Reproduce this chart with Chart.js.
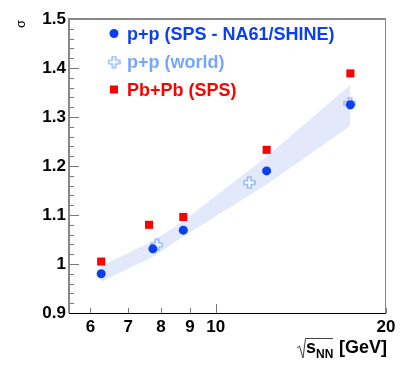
<!DOCTYPE html>
<html>
<head>
<meta charset="utf-8">
<script src="https://cdn.jsdelivr.net/npm/chart.js@4/dist/chart.umd.min.js"></script>
<style>
    html, body { margin: 0; padding: 0; background: #fff; }
    #chart { display: block; }
</style>
</head>
<body>
<canvas id="chart" width="407" height="369"></canvas>
<script>
// Data
const ppX = [6.27, 7.74, 8.76, 12.3, 17.3];
const ppY = [0.980, 1.031, 1.069, 1.190, 1.325];
const worldX = [7.87, 11.46, 17.27];
const worldY = [1.039, 1.166, 1.328];
const pbX = [6.27, 7.62, 8.76, 12.3, 17.3];
const pbY = [1.005, 1.080, 1.096, 1.233, 1.389];
const bandX = [6.27, 7.74, 8.76, 12.3, 17.3];
const bandHigh = [0.996, 1.047, 1.088, 1.219, 1.366];
const bandLow = [0.964, 1.015, 1.056, 1.162, 1.282];

const xTicks = [6, 7, 8, 9, 10, 20];
const yTicks = [0.9, 1.0, 1.1, 1.2, 1.3, 1.4, 1.5];
const legendLabels = ['p+p (SPS - NA61/SHINE)', 'p+p (world)', 'Pb+Pb (SPS)'];

const BLUE = '#0a3ff2';
const LIGHT_BLUE = '#78a6fa';
const RED = '#ff0000';
const BAND = '#e3e8fb';
const FONT = '"Liberation Sans", Arial, Helvetica, sans-serif';

function pts(xs, ys) {
    return xs.map((x, i) => ({ x: x, y: ys[i] }));
}

// Open cross marker
function makeCross(size) {
    const c = document.createElement('canvas');
    c.width = size + 2;
    c.height = size + 2;
    const g = c.getContext('2d');
    const o = 1, s = size, a = size * 0.32;
    const m0 = o + (s - a) / 2, m1 = m0 + a;
    g.beginPath();
    g.moveTo(m0, o); g.lineTo(m1, o); g.lineTo(m1, m0);
    g.lineTo(o + s, m0); g.lineTo(o + s, m1); g.lineTo(m1, m1);
    g.lineTo(m1, o + s); g.lineTo(m0, o + s); g.lineTo(m0, m1);
    g.lineTo(o, m1); g.lineTo(o, m0); g.lineTo(m0, m0);
    g.closePath();
    g.fillStyle = '#fff';
    g.fill();
    g.strokeStyle = LIGHT_BLUE;
    g.lineWidth = 1.2;
    g.stroke();
    return c;
}
const crossImg = makeCross(11);

// Frame, tick marks, legend and titles
const decorations = {
    id: 'decorations',
    afterDraw(chart) {
        const ctx = chart.ctx;
        const a = chart.chartArea;
        const xs = chart.scales.x;
        const ys = chart.scales.y;
        ctx.save();

        // y tick marks (major every 0.1, minor every 0.02)
        ctx.strokeStyle = '#777';
        ctx.lineWidth = 1;
        for (let k = 0; k <= 30; k++) {
            const v = 0.9 + k * 0.02;
            const py = Math.round(ys.getPixelForValue(v)) + 0.5;
            const len = k % 5 === 0 ? 10 : 5;
            ctx.beginPath();
            ctx.moveTo(a.left, py);
            ctx.lineTo(a.left + len, py);
            ctx.stroke();
        }
        // x tick marks
        xTicks.forEach(v => {
            const px = Math.round(xs.getPixelForValue(v)) + 0.5;
            const len = v === 10 ? 9 : 5;
            ctx.beginPath();
            ctx.moveTo(px, a.bottom);
            ctx.lineTo(px, a.bottom - len);
            ctx.stroke();
        });

        // frame
        ctx.strokeStyle = '#888';
        ctx.lineWidth = 2;
        ctx.beginPath();
        ctx.moveTo(a.left, a.bottom);
        ctx.lineTo(a.left, a.top);
        ctx.lineTo(a.right, a.top);
        ctx.stroke();
        ctx.lineWidth = 1;
        ctx.beginPath();
        ctx.moveTo(a.right - 0.5, a.top);
        ctx.lineTo(a.right - 0.5, a.bottom);
        ctx.stroke();
        ctx.strokeStyle = '#000';
        ctx.beginPath();
        ctx.moveTo(a.left, a.bottom + 0.5);
        ctx.lineTo(a.right, a.bottom + 0.5);
        ctx.stroke();

        // legend
        const lx = 114, tx = 127;
        const rows = [33.5, 62, 89.5];
        ctx.fillStyle = BLUE;
        ctx.beginPath();
        ctx.arc(lx, rows[0], 4.5, 0, Math.PI * 2);
        ctx.fill();
        ctx.drawImage(crossImg, lx - crossImg.width / 2, rows[1] - crossImg.height / 2);
        ctx.fillStyle = RED;
        ctx.fillRect(lx - 4, rows[2] - 4, 8, 8);

        ctx.font = 'bold 18px ' + FONT;
        ctx.textAlign = 'left';
        ctx.textBaseline = 'alphabetic';
        const colors = [BLUE, LIGHT_BLUE, RED];
        legendLabels.forEach((t, i) => {
            ctx.fillStyle = colors[i];
            ctx.fillText(t, tx, rows[i] + 6.3);
        });

        // y title
        ctx.fillStyle = '#000';
        ctx.font = '13px ' + FONT;
        ctx.translate(21, 24);
        ctx.rotate(-Math.PI / 2);
        ctx.textAlign = 'center';
        ctx.textBaseline = 'middle';
        ctx.fillText('σ', 0, 0);
        ctx.setTransform(1, 0, 0, 1, 0, 0);

        // x title: sqrt(s_NN) [GeV]
        ctx.textAlign = 'left';
        ctx.textBaseline = 'alphabetic';
        ctx.strokeStyle = '#444';
        ctx.lineWidth = 1;
        ctx.beginPath();
        ctx.moveTo(297, 348);
        ctx.lineTo(299.5, 346);
        ctx.lineTo(303, 358);
        ctx.lineTo(305.5, 338.5);
        ctx.lineTo(333, 338.5);
        ctx.stroke();
        ctx.font = 'bold 18px ' + FONT;
        ctx.fillText('s', 306, 353);
        ctx.font = 'bold 12px ' + FONT;
        ctx.fillText('NN', 316, 358);
        ctx.font = 'bold 18px ' + FONT;
        ctx.fillText('[GeV]', 339, 353);

        ctx.restore();
    }
};

const ctx = document.getElementById('chart').getContext('2d');
const chart = new Chart(ctx, {
    type: 'scatter',
    data: {
        datasets: [
            {
                label: 'bandHigh',
                data: pts(bandX, bandHigh),
                type: 'line',
                showLine: true,
                borderWidth: 0,
                borderColor: 'rgba(0,0,0,0)',
                pointRadius: 0,
                fill: false,
                order: 10,
            },
            {
                label: 'bandLow',
                data: pts(bandX, bandLow),
                type: 'line',
                showLine: true,
                borderWidth: 0,
                borderColor: 'rgba(0,0,0,0)',
                backgroundColor: BAND,
                pointRadius: 0,
                fill: '-1',
                order: 9,
            },
            {
                label: legendLabels[1],
                data: pts(worldX, worldY),
                pointStyle: crossImg,
                order: 3,
            },
            {
                label: legendLabels[0],
                data: pts(ppX, ppY),
                pointStyle: 'circle',
                pointRadius: 4.5,
                backgroundColor: BLUE,
                borderWidth: 0,
                order: 2,
            },
            {
                label: legendLabels[2],
                data: pts(pbX, pbY),
                pointStyle: 'rect',
                pointRadius: 5.7,
                backgroundColor: RED,
                borderWidth: 0,
                order: 1,
            },
        ]
    },
    options: {
        responsive: false,
        devicePixelRatio: 1,
        animation: false,
        layout: {
            autoPadding: false,
            padding: { left: 0, top: 19, right: 21, bottom: 0 }
        },
        plugins: {
            legend: { display: false },
            tooltip: { enabled: false },
        },
        scales: {
            x: {
                type: 'logarithmic',
                min: 5.5,
                max: 20,
                afterBuildTicks: s => { s.ticks = xTicks.map(v => ({ value: v })); },
                afterFit: s => { s.height = 56; },
                grid: { display: false, drawTicks: false },
                border: { display: false },
                ticks: {
                    autoSkip: false,
                    maxRotation: 0,
                    padding: 4,
                    color: '#000',
                    font: { family: FONT, size: 17, weight: 'bold' },
                    callback: v => String(v),
                }
            },
            y: {
                min: 0.9,
                max: 1.5,
                afterBuildTicks: s => { s.ticks = yTicks.map(v => ({ value: v })); },
                afterFit: s => { s.width = 69; },
                grid: { display: false, drawTicks: false },
                border: { display: false },
                ticks: {
                    padding: 3,
                    color: '#000',
                    font: { family: FONT, size: 17, weight: 'bold' },
                    callback: v => String(Number(v.toFixed(1))),
                }
            }
        }
    },
    plugins: [decorations]
});
</script>
</body>
</html>
